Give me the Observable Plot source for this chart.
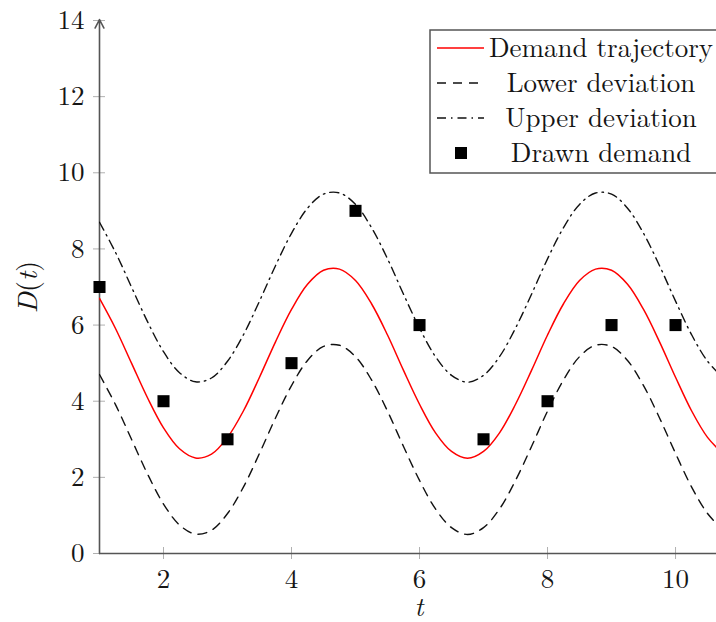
<!DOCTYPE html>
<html>
<head>
<meta charset="utf-8">
<script src="https://cdn.jsdelivr.net/npm/d3@7"></script>
<script src="https://cdn.jsdelivr.net/npm/@observablehq/plot@0.6"></script>
<style>
  html, body { margin: 0; padding: 0; background: #fff; }
  #wrap { position: relative; width: 716px; height: 622px; }
  #wrap svg { position: absolute; left: 0; top: 0; }
  #wrap svg, #wrap svg text, #wrap svg tspan { font-family: 'Latin Modern Roman', 'Liberation Serif' !important; }
</style>
</head>
<body>
<div id="wrap"></div>
<script>
// ---- data ----
const t = [1,1.25,1.5,1.75,2,2.25,2.5,2.75,3,3.25,3.5,3.75,4,4.25,4.5,4.75,5,5.25,5.5,5.75,6,6.25,6.5,6.75,7,7.25,7.5,7.75,8,8.25,8.5,8.75,9,9.25,9.5,9.75,10,10.25,10.5,10.75];
const demand = [6.70,5.91,5.00,4.09,3.30,2.75,2.51,2.61,3.05,3.75,4.63,5.56,6.41,7.07,7.44,7.47,7.17,6.56,5.74,4.81,3.92,3.17,2.68,2.50,2.68,3.17,3.92,4.81,5.74,6.56,7.17,7.47,7.44,7.07,6.41,5.56,4.63,3.75,3.05,2.61];
const upper = [8.70,7.91,7.00,6.09,5.30,4.75,4.51,4.61,5.05,5.75,6.63,7.56,8.41,9.07,9.44,9.47,9.17,8.56,7.74,6.81,5.92,5.17,4.68,4.50,4.68,5.17,5.92,6.81,7.74,8.56,9.17,9.47,9.44,9.07,8.41,7.56,6.63,5.75,5.05,4.61];
const lower = [4.70,3.91,3.00,2.09,1.30,0.75,0.51,0.61,1.05,1.75,2.63,3.56,4.41,5.07,5.44,5.47,5.17,4.56,3.74,2.81,1.92,1.17,0.68,0.50,0.68,1.17,1.92,2.81,3.74,4.56,5.17,5.47,5.44,5.07,4.41,3.56,2.63,1.75,1.05,0.61];
const drawnT = [1,2,3,4,5,6,7,8,9,10];
const drawnD = [7,4,3,5,9,6,3,4,6,6];
const xTicks = [2,4,6,8,10];
const yTicks = [0,2,4,6,8,10,12,14];
const legendLabels = ["Demand trajectory","Lower deviation","Upper deviation","Drawn demand"];

const curve = t.map((x, i) => ({t: x, demand: demand[i], upper: upper[i], lower: lower[i]}));
const drawn = drawnT.map((x, i) => ({t: x, d: drawnD[i]}));

const FONT = "Latin Modern Roman";
const axisColor = "#555";
const tickColor = "#b0b0b0";
const textColor = "#151515";

const chart = Plot.plot({
  width: 716,
  height: 622,
  marginLeft: 99,
  marginRight: 0,
  marginTop: 20,
  marginBottom: 69,
  style: {fontFamily: FONT, fontSize: "27px", color: textColor, background: "transparent"},
  x: {domain: [1, 10.64], label: null},
  y: {domain: [0, 14], label: null},
  marks: [
    // tick marks crossing the axes
    Plot.axisX({ticks: xTicks, tickSize: 12, dy: -6, tickFormat: () => "", stroke: tickColor, label: null}),
    Plot.axisY({ticks: yTicks, tickSize: 12, dx: 6, tickFormat: () => "", stroke: tickColor, label: null}),
    // tick labels
    Plot.axisX({ticks: xTicks, tickSize: 0, tickPadding: 15, fill: textColor, label: null, fontSize: 27, fontFamily: FONT}),
    Plot.axisY({ticks: yTicks, tickSize: 0, tickPadding: 15, fill: textColor, label: null, fontSize: 27, fontFamily: FONT}),
    // axis lines
    Plot.ruleY([0], {stroke: axisColor, strokeWidth: 1.6}),
    Plot.arrow([{x1: 1, y1: 0, x2: 1, y2: 14}], {x1: "x1", y1: "y1", x2: "x2", y2: "y2", stroke: axisColor, strokeWidth: 1.6, headLength: 9, headAngle: 55, insetEnd: -1}),
    // series
    Plot.line(curve, {x: "t", y: "lower", stroke: "#111", strokeWidth: 1.4, strokeDasharray: "9,7", curve: "catmull-rom", clip: true}),
    Plot.line(curve, {x: "t", y: "upper", stroke: "#111", strokeWidth: 1.4, strokeDasharray: "9,5,1.5,5", curve: "catmull-rom", clip: true}),
    Plot.line(curve, {x: "t", y: "demand", stroke: "#ff0000", strokeWidth: 1.5, curve: "catmull-rom", clip: true}),
    Plot.dot(drawn, {x: "t", y: "d", symbol: "square", r: 6.8, fill: "#000", stroke: "none"})
  ]
});

const wrap = document.getElementById("wrap");
wrap.appendChild(chart);

// overlay: axis labels and legend
const ov = d3.create("svg").attr("width", 716).attr("height", 622)
  .attr("font-family", FONT).style("pointer-events", "none");

// x label
ov.append("text").attr("x", 419).attr("y", 616).attr("text-anchor", "middle")
  .attr("font-family", FONT).attr("font-size", 27).attr("font-style", "italic").attr("fill", textColor).text("t");
// y label
const yl = ov.append("text").attr("transform", "translate(37,287) rotate(-90)")
  .attr("font-family", FONT).attr("text-anchor", "middle").attr("font-size", 28).attr("fill", textColor);
yl.append("tspan").attr("font-style", "italic").text("D");
yl.append("tspan").text("(");
yl.append("tspan").attr("font-style", "italic").text("t");
yl.append("tspan").text(")");

// legend
const lx = 430, ly = 30, rowH = 35;
ov.append("rect").attr("x", lx).attr("y", ly).attr("width", 300).attr("height", 143)
  .attr("fill", "#fff").attr("stroke", axisColor).attr("stroke-width", 1.5);
const styles = [
  {stroke: "#ff0000", dash: null},
  {stroke: "#111", dash: "9,7"},
  {stroke: "#111", dash: "9,5,1.5,5"},
  null
];
legendLabels.forEach((lab, i) => {
  const cy = ly + 18 + i * rowH;
  const s = styles[i];
  if (s) {
    ov.append("line").attr("x1", lx + 7).attr("x2", lx + 54).attr("y1", cy).attr("y2", cy)
      .attr("stroke", s.stroke).attr("stroke-width", 1.5).attr("stroke-dasharray", s.dash);
  } else {
    ov.append("rect").attr("x", lx + 25).attr("y", cy - 6).attr("width", 12).attr("height", 12).attr("fill", "#000");
  }
  ov.append("text").attr("x", 601).attr("y", cy + 9).attr("text-anchor", "middle")
    .attr("font-family", FONT).attr("font-size", 27).attr("fill", textColor).text(lab);
});
wrap.appendChild(ov.node());
</script>
</body>
</html>
